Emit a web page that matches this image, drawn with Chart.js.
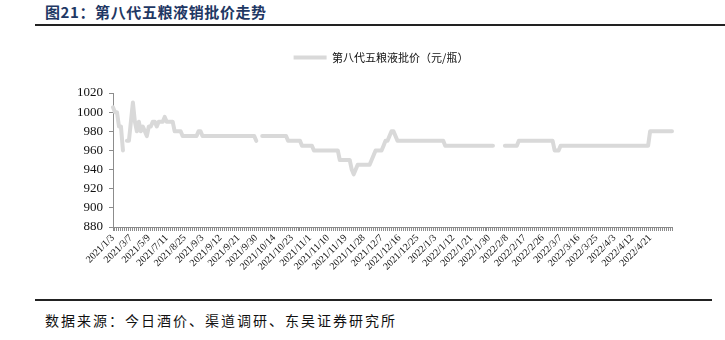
<!DOCTYPE html>
<html lang="zh-CN">
<head>
<meta charset="UTF-8">
<title>第八代五粮液销批价走势</title>
<script src="https://cdn.jsdelivr.net/npm/chart.js@4.4.1/dist/chart.umd.min.js"></script>
<style>
    body {
        margin: 0;
        width: 725px;
        height: 340px;
        background: #fff;
        position: relative;
        overflow: hidden;
        font-family: "Noto Sans CJK SC", sans-serif;
    }
    #title {
        position: absolute;
        left: 45px;
        top: 1px;
        font-size: 15px;
        font-weight: bold;
        letter-spacing: 0.6px;
        color: #1f3864;
        white-space: nowrap;
    }
    .rule {
        position: absolute;
        left: 35px;
        height: 2px;
        background: #222;
    }
    #wrap {
        position: absolute;
        left: 0;
        top: 30px;
        width: 725px;
        height: 265px;
    }
    #source {
        position: absolute;
        left: 45px;
        top: 310px;
        font-size: 14px;
        letter-spacing: 2px;
        color: #111;
        white-space: nowrap;
    }
</style>
</head>
<body>
<div id="title">图21：第八代五粮液销批价走势</div>
<div class="rule" style="top:24px;width:690px;"></div>
<div id="wrap"><canvas id="priceChart"></canvas></div>
<div class="rule" style="top:299px;width:677px;"></div>
<div id="source">数据来源：今日酒价、渠道调研、东吴证券研究所</div>

<script>
// 系列名
const seriesName = '第八代五粮液批价（元/瓶）';

// 横轴标签（每9个数据点显示一个）
const tickLabels = [
    '2021/1/3', '2021/3/7', '2021/5/9', '2021/7/11', '2021/8/25', '2021/9/3',
    '2021/9/12', '2021/9/21', '2021/9/30', '2021/10/14', '2021/10/23', '2021/11/1',
    '2021/11/10', '2021/11/19', '2021/11/28', '2021/12/7', '2021/12/16', '2021/12/25',
    '2022/1/3', '2022/1/12', '2022/1/21', '2022/1/30', '2022/2/8', '2022/2/17',
    '2022/2/26', '2022/3/7', '2022/3/16', '2022/3/25', '2022/4/3', '2022/4/12',
    '2022/4/21'
];
const labelEvery = 9;

// 批价（元/瓶），null = 无数据
const prices = [
    1005, 1000, 1000, 985, 985, 960, null, 970, 970, 990,
    1010, 990, 980, 990, 980, 985, 980, 975, 985, 985,
    990, 990, 985, 990, 990, 990, 995, 990, 990, 990,
    990, 980, 980, 980, 980, 975, 975, 975, 975, 975,
    975, 975, 975, 980, 980, 975, 975, 975, 975, 975,
    975, 975, 975, 975, 975, 975, 975, 975, 975, 975,
    975, 975, 975, 975, 975, 975, 975, 975, 975, 975,
    975, 975, 970, null, null, 975, 975, 975, 975, 975,
    975, 975, 975, 975, 975, 975, 975, 975, 970, 970,
    970, 970, 970, 970, 970, 965, 965, 965, 965, 965,
    965, 960, 960, 960, 960, 960, 960, 960, 960, 960,
    960, 960, 960, 960, 950, 950, 950, 950, 950, 950,
    940, 935, 940, 945, 945, 945, 945, 945, 945, 945,
    950, 955, 960, 960, 960, 960, 965, 970, 970, 975,
    980, 980, 975, 970, 970, 970, 970, 970, 970, 970,
    970, 970, 970, 970, 970, 970, 970, 970, 970, 970,
    970, 970, 970, 970, 970, 970, 970, 965, 965, 965,
    965, 965, 965, 965, 965, 965, 965, 965, 965, 965,
    965, 965, 965, 965, 965, 965, 965, 965, 965, 965,
    965, 965, null, null, null, null, null, 965, 965, 965,
    965, 965, 965, 965, 970, 970, 970, 970, 970, 970,
    970, 970, 970, 970, 970, 970, 970, 970, 970, 970,
    970, 970, 960, 960, 960, 965, 965, 965, 965, 965,
    965, 965, 965, 965, 965, 965, 965, 965, 965, 965,
    965, 965, 965, 965, 965, 965, 965, 965, 965, 965,
    965, 965, 965, 965, 965, 965, 965, 965, 965, 965,
    965, 965, 965, 965, 965, 965, 965, 965, 965, 965,
    980, 980, 980, 980, 980, 980, 980, 980, 980, 980,
    980, 980
];

// 纵轴范围
const yMin = 880;
const yMax = 1020;
const yStep = 20;

const lineColor = '#d9d9d9';
const axisColor = '#8c8c8c';

// 类别：只在每9个点放一个日期
const categories = prices.map((_, i) =>
    i % labelEvery === 0 ? (tickLabels[i / labelEvery] ?? '') : ''
);

// 图例和绘图区之间留空，并把图例往右移一点
const legendTweak = {
    id: 'legendTweak',
    beforeInit(chart) {
        const fit = chart.legend.fit;
        chart.legend.fit = function () {
            fit.bind(chart.legend)();
            this.height += 20;
        };
    },
    afterLayout(chart) {
        chart.legend.left += 45;
        chart.legend.right += 45;
    }
};

function initPriceChart() {
    const ctx = document.getElementById('priceChart').getContext('2d');

    const config = {
        type: 'line',
        data: {
            labels: categories,
            datasets: [{
                label: seriesName,
                data: prices,
                borderColor: lineColor,
                backgroundColor: lineColor,
                borderWidth: 4,
                pointRadius: 0,
                tension: 0,
                spanGaps: false,
                borderJoinStyle: 'round',
                borderCapStyle: 'round'
            }]
        },
        options: {
            responsive: true,
            maintainAspectRatio: false,
            animation: false,
            layout: {
                padding: { left: 0, right: 53, top: 12, bottom: 0 }
            },
            plugins: {
                legend: {
                    position: 'top',
                    labels: {
                        boxWidth: 33,
                        boxHeight: 4,
                        padding: 10,
                        color: '#111',
                        font: { family: '"Noto Sans CJK SC"', size: 11 },
                        generateLabels: function (chart) {
                            const items = Chart.defaults.plugins.legend.labels.generateLabels(chart);
                            items.forEach(item => {
                                item.lineWidth = 0;
                                item.fillStyle = lineColor;
                            });
                            return items;
                        }
                    }
                },
                tooltip: { enabled: false }
            },
            scales: {
                x: {
                    afterFit: function (scale) { scale.height = 68; },
                    border: { color: axisColor, width: 1 },
                    grid: {
                        drawOnChartArea: false,
                        drawTicks: true,
                        tickLength: 4,
                        color: axisColor
                    },
                    ticks: {
                        autoSkip: false,
                        minRotation: 45,
                        maxRotation: 45,
                        padding: 1,
                        color: '#111',
                        font: { family: '"Liberation Serif"', size: 10 }
                    }
                },
                y: {
                    min: yMin,
                    max: yMax,
                    afterFit: function (scale) { scale.width = 113; },
                    border: { color: axisColor, width: 1 },
                    grid: {
                        drawOnChartArea: false,
                        drawTicks: true,
                        tickLength: 4,
                        color: axisColor
                    },
                    ticks: {
                        stepSize: yStep,
                        padding: 6,
                        color: '#111',
                        font: { family: '"Liberation Serif"', size: 13 },
                        // 千分位逗号不要
                        callback: function (value) { return String(value); }
                    }
                }
            }
        },
        plugins: [legendTweak]
    };

    new Chart(ctx, config);
}

initPriceChart();
</script>
</body>
</html>
